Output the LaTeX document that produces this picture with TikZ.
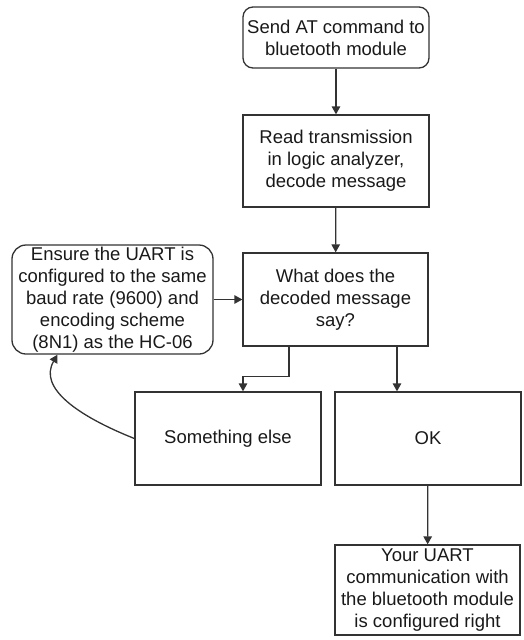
\documentclass[tikz,border=0pt]{standalone}
\usepackage{fontspec}
\setmainfont{Liberation Sans}
\usetikzlibrary{arrows.meta,calc}
\begin{document}
\begin{tikzpicture}[x=1pt,y=-1pt,
  every node/.style={font=\fontsize{18.5}{22}\selectfont, text=black!90, align=center, inner sep=0pt},
  box/.style={draw=black!80, line width=1.3pt, rectangle},
  rbox/.style={box, rounded corners=10pt},
  arr/.style={draw=black!80, line width=1.3pt, -{Triangle[length=8pt,width=8.5pt]}}]
  \useasboundingbox (0,0) rectangle (523,640);
  % process boxes
  \node[rbox, minimum width=186pt, minimum height=61pt] (send) at (336,37.5) {Send AT command to\\bluetooth module};
  \node[box, minimum width=186pt, minimum height=92pt] (read) at (336,161) {Read transmission\\in logic analyzer,\\decode message};
  \node[box, minimum width=185pt, minimum height=93pt] (ask) at (335.5,299.5) {What does the\\decoded message\\say?};
  \node[rbox, rounded corners=14pt, minimum width=201pt, minimum height=109pt] (ens) at (112.5,299.5) {Ensure the UART is\\configured to the same\\baud rate (9600) and\\encoding scheme\\(8N1) as the HC-06};
  \node[box, minimum width=186pt, minimum height=93pt] (else) at (228,438.5) {Something else};
  \node[box, minimum width=186pt, minimum height=93pt] (ok) at (428,438.5) {OK};
  \node[box, minimum width=185pt, minimum height=90pt] (done) at (427.5,590) {Your UART\\communication with\\the bluetooth module\\is configured right};
  % connectors
  \draw[arr] (send) -- (read);
  \draw[arr] (read) -- (ask);
  \draw[arr] (ens.east |- ask.west) -- (ask.west);
  \draw[arr] ([xshift=-46.5pt]ask.south) -- ++(0,-30pt) -| ([xshift=15pt]else.north);
  \draw[arr] ([xshift=61.5pt]ask.south) -- ([xshift=61.5pt]ask.south |- ok.north);
  \draw[arr] (ok) -- (done);
  \draw[arr] (else.west) .. controls (78,416) and (38,388) .. ([xshift=-55pt]ens.south);
\end{tikzpicture}
\end{document}
